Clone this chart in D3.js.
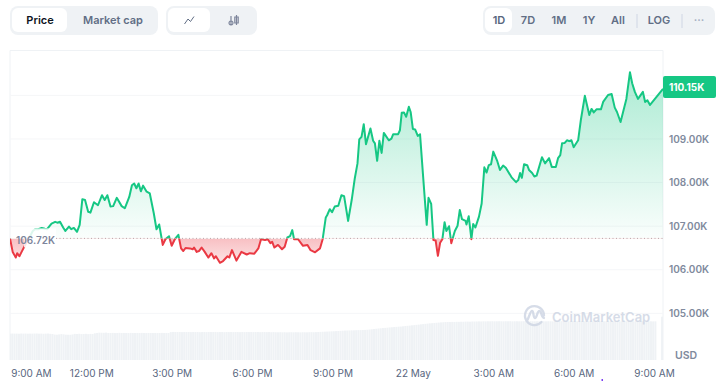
<!DOCTYPE html>
<html>
<head>
<meta charset="utf-8">
<script src="https://cdn.jsdelivr.net/npm/d3@7"></script>
<style>
  html, body { margin: 0; padding: 0; background: #fff; }
  svg { display: block; }
  text { font-family: Inter, "Noto Sans", sans-serif; }
</style>
</head>
<body>
<div id="chart"></div>
<script>
// minutes after 9:00 AM on 21 May
var priceMinutes = [
  -2, 4, 11, 14, 19, 24, 34, 43, 49, 54, 61, 69, 76, 81, 91, 99, 104, 110, 117, 122,
  130, 135, 141, 148, 154, 160, 166, 173, 178, 186, 195, 204, 210, 216, 223, 229, 237, 248, 255, 265,
  271, 276, 281, 286, 291, 296, 304, 311, 320, 326, 332, 340, 346, 354, 360, 367, 375, 381, 386, 391,
  401, 407, 410, 416, 421, 427, 434, 442, 449, 455, 459, 468, 475, 485, 489, 495, 505, 516, 528, 535,
  545, 554, 560, 569, 575, 581, 585, 590, 598, 607, 613, 619, 625, 630, 634, 643, 654, 664, 671, 681,
  692, 698, 705, 708, 714, 719, 725, 733, 740, 746, 755, 763, 770, 776, 780, 785, 790, 795, 805, 811,
  815, 820, 825, 830, 835, 846, 852, 856, 867, 871, 875, 880, 885, 891, 895, 900, 905, 911, 916, 923,
  931, 935, 941, 946, 951, 956, 961, 966, 971, 975, 981, 986, 994, 1000, 1005, 1010, 1018, 1020, 1025, 1031,
  1035, 1040, 1048, 1054, 1060, 1065, 1070, 1075, 1080, 1089, 1095, 1102, 1108, 1121, 1131, 1136, 1140, 1144, 1149, 1156,
  1160, 1167, 1172, 1177, 1189, 1196, 1205, 1211, 1220, 1225, 1230, 1234, 1240, 1245, 1250, 1255, 1260, 1270, 1276, 1285,
  1295, 1300, 1305, 1311, 1321, 1326, 1337, 1345, 1352, 1357, 1365, 1378, 1386, 1391, 1397, 1404, 1415, 1420, 1425, 1431,
  1460
];

// price in thousands of USD
var prices = [
  106.72, 106.41, 106.28, 106.38, 106.31, 106.41, 106.61, 106.77, 106.89, 106.93, 106.93, 106.96, 106.94, 106.93, 107.06, 107.10, 107.08, 107.10, 106.97, 106.89,
  106.99, 106.93, 106.96, 106.87, 107.03, 107.62, 107.60, 107.33, 107.31, 107.55, 107.48, 107.71, 107.60, 107.71, 107.45, 107.46, 107.65, 107.46, 107.41, 107.67,
  107.94, 107.98, 107.87, 107.98, 107.80, 107.93, 107.79, 107.75, 107.29, 106.93, 107.04, 106.57, 106.70, 106.77, 106.55, 106.70, 106.80, 106.49, 106.43, 106.50,
  106.49, 106.47, 106.51, 106.41, 106.43, 106.51, 106.41, 106.28, 106.38, 106.26, 106.31, 106.16, 106.20, 106.31, 106.28, 106.45, 106.21, 106.41, 106.35, 106.38,
  106.37, 106.49, 106.70, 106.68, 106.70, 106.61, 106.64, 106.51, 106.57, 106.47, 106.53, 106.74, 106.77, 106.91, 106.70, 106.70, 106.55, 106.57, 106.45, 106.40,
  106.49, 106.70, 107.20, 107.25, 107.39, 107.32, 107.45, 107.47, 107.71, 107.69, 107.12, 107.60, 108.10, 108.44, 108.99, 109.05, 109.34, 108.88, 109.24, 108.96,
  108.90, 108.50, 108.96, 108.68, 109.14, 108.97, 109.01, 109.11, 109.11, 109.20, 109.60, 109.61, 109.51, 109.74, 109.62, 109.23, 109.22, 109.07, 109.11, 108.13,
  107.03, 107.65, 107.51, 106.68, 106.67, 106.32, 106.62, 106.70, 107.09, 106.89, 107.00, 106.61, 106.89, 107.01, 107.37, 107.16, 107.12, 107.04, 107.23, 106.70,
  107.05, 106.97, 107.22, 107.52, 108.35, 108.23, 108.40, 108.42, 108.71, 108.49, 108.29, 108.39, 108.34, 108.12, 108.01, 108.06, 108.22, 108.11, 108.42, 108.40,
  108.29, 108.22, 108.14, 108.16, 108.58, 108.44, 108.56, 108.36, 108.36, 108.56, 108.63, 108.90, 108.91, 108.97, 108.95, 108.97, 108.81, 108.97, 109.43, 109.99,
  109.55, 109.69, 109.61, 109.68, 109.68, 109.85, 110.01, 110.03, 109.72, 109.62, 109.39, 109.92, 110.53, 110.28, 110.08, 109.92, 110.08, 109.85, 109.89, 109.78,
  110.15
];

// rolling 24h volume in billions, one bar every 5 minutes
var volumes = [
  59.8, 60.1, 59.9, 60.0, 59.7, 60.2, 59.9, 60.1, 59.8, 60.0, 59.9, 60.1, 60.2, 59.8, 60.0, 59.6, 59.9, 60.1, 59.5, 59.2,
  57.8, 57.5, 58.2, 58.9, 58.4, 57.6, 57.4, 57.3, 58.1, 59.4, 59.2, 59.6, 58.9, 59.1, 59.5, 58.8, 59.3, 59.0, 60.7, 61.5,
  62.1, 62.0, 61.8, 62.2, 61.5, 61.3, 61.6, 61.2, 61.4, 61.7, 61.3, 61.5, 61.4, 61.2, 61.6, 61.3, 61.4, 61.5, 61.3, 61.6,
  61.4, 61.2, 61.5, 61.4, 61.3, 61.5, 61.2, 61.4, 61.6, 61.3, 61.5, 61.4, 63.4, 63.8, 63.6, 63.5, 63.7, 63.4, 63.6, 63.5,
  63.6, 63.4, 63.7, 63.5, 63.6, 63.3, 63.5, 63.6, 63.4, 63.7, 63.5, 63.6, 63.8, 63.4, 63.5, 63.6, 63.3, 63.6, 63.5, 63.7,
  63.4, 63.6, 63.5, 63.3, 63.6, 63.4, 63.7, 63.5, 63.6, 63.4, 63.5, 63.7, 63.3, 63.6, 63.5, 63.4, 63.6, 63.2, 63.4, 63.1,
  63.0, 63.2, 62.9, 63.1, 62.8, 63.0, 63.1, 62.9, 63.2, 63.0, 62.8, 63.1, 63.0, 62.9, 63.2, 63.3, 63.1, 63.4, 63.6, 63.9,
  64.2, 64.4, 64.6, 64.9, 65.1, 65.4, 65.7, 66.0, 66.3, 66.6, 66.9, 67.0, 67.2, 67.4, 67.5, 67.7, 67.9, 68.0, 68.2, 68.4,
  68.8, 69.3, 69.9, 70.5, 71.0, 71.6, 72.1, 72.6, 73.0, 73.5, 74.0, 74.4, 74.9, 75.3, 75.7, 76.0, 76.6, 77.2, 77.7, 78.2,
  78.8, 79.3, 79.9, 80.4, 81.1, 81.6, 82.2, 82.7, 83.3, 83.7, 84.2, 84.6, 85.1, 85.5, 85.8, 86.2, 86.4, 86.3, 86.6, 86.5,
  86.8, 86.7, 87.0, 86.9, 87.2, 87.3, 87.1, 87.5, 87.4, 87.6, 87.8, 87.6, 87.9, 87.8, 88.0, 87.9, 88.1, 87.9, 88.0, 88.1,
  88.0, 87.9, 88.1, 88.0, 88.2, 87.9, 88.0, 88.1, 87.9, 88.0, 88.2, 88.0, 87.9, 88.1, 88.0, 87.9, 88.1, 88.0, 88.2, 88.0,
  87.9, 88.1, 88.0, 87.8, 88.0, 88.1, 87.9, 88.2, 88.0, 88.1, 87.9, 88.0, 88.1, 87.8, 88.0, 87.9, 88.1, 88.0, 87.9, 88.1,
  88.0, 87.9, 88.1, 88.0, 87.8, 88.1, 88.0, 87.9, 88.2, 88.0, 87.9, 88.1, 88.0, 87.8, 88.1, 87.9, 88.0, 88.1, 87.9, 88.0,
  87.8, 88.0, 87.9, 88.1, 87.8, 88.0, 87.9, 88.0, 87.8, 87.9, null, null, 98.4
];

var volumeStart = -2;
var volumeStep = 5;

var basePrice = 106.72;
var lastPrice = 110.15;

var gridTicks = [105, 106, 107, 108, 109, 110];
var priceTicks = [105, 106, 107, 108, 109]; // 110.00K sits under the current price tag
var timeTicks = [0, 180, 360, 540, 720, 900, 1080, 1260, 1440];
var timeLabels = ["9:00 AM", "12:00 PM", "3:00 PM", "6:00 PM", "9:00 PM", "22 May", "3:00 AM", "6:00 AM", "9:00 AM"];

var points = prices.map(function(d, i) { return {minute: priceMinutes[i], price: d}; });
var volumeBars = volumes.map(function(d, i) { return {minute: volumeStart + i * volumeStep, volume: d}; })
    .filter(function(d) { return d.volume !== null; });

var plot = {left: 10, right: 663, top: 50.5, bottom: 360};
var green = "#16c784", red = "#ea3943";

var svg = d3.select("#chart").append("svg")
    .attr("width", 720)
    .attr("height", 381);

var x = d3.scaleLinear().domain([-2, 1460]).range([plot.left, plot.right]);
var y = d3.scaleLinear().domain([103.93, 111.03]).range([plot.bottom, plot.top]);
var yVolume = d3.scaleLinear().domain([0, 100]).range([plot.bottom, plot.bottom - 44]);

var defs = svg.append("defs");

defs.append("clipPath").attr("id", "clip-plot").append("rect")
    .attr("x", plot.left).attr("y", plot.top)
    .attr("width", plot.right - plot.left).attr("height", plot.bottom - plot.top);
defs.append("clipPath").attr("id", "clip-up").append("rect")
    .attr("x", plot.left).attr("y", plot.top)
    .attr("width", plot.right - plot.left).attr("height", y(basePrice) - plot.top);
defs.append("clipPath").attr("id", "clip-down").append("rect")
    .attr("x", plot.left).attr("y", y(basePrice))
    .attr("width", plot.right - plot.left).attr("height", plot.bottom - y(basePrice));

var gradUp = defs.append("linearGradient").attr("id", "grad-up")
    .attr("gradientUnits", "userSpaceOnUse")
    .attr("x1", 0).attr("x2", 0).attr("y1", y(110.53)).attr("y2", y(basePrice));
gradUp.append("stop").attr("offset", 0).attr("stop-color", green).attr("stop-opacity", 0.36);
gradUp.append("stop").attr("offset", 1).attr("stop-color", green).attr("stop-opacity", 0.02);

var gradDown = defs.append("linearGradient").attr("id", "grad-down")
    .attr("gradientUnits", "userSpaceOnUse")
    .attr("x1", 0).attr("x2", 0).attr("y1", y(basePrice)).attr("y2", y(106.16));
gradDown.append("stop").attr("offset", 0).attr("stop-color", red).attr("stop-opacity", 0.32);
gradDown.append("stop").attr("offset", 1).attr("stop-color", red).attr("stop-opacity", 0.14);

// Plot frame and gridlines
svg.append("path")
    .attr("d", "M" + plot.left + "," + plot.bottom + "V" + plot.top + "H" + plot.right + "V" + plot.bottom)
    .attr("fill", "none")
    .attr("stroke", "#eff2f5");

svg.append("g").selectAll("line")
    .data(gridTicks)
    .enter().append("line")
    .attr("x1", plot.left).attr("x2", plot.right)
    .attr("y1", function(d) { return y(d); })
    .attr("y2", function(d) { return y(d); })
    .attr("stroke", "#f5f6f8");

// Volume bars
svg.append("g")
    .attr("clip-path", "url(#clip-plot)")
    .selectAll("rect")
    .data(volumeBars)
    .enter().append("rect")
    .attr("x", function(d) { return x(d.minute) - 1; })
    .attr("y", function(d) { return yVolume(d.volume); })
    .attr("width", 2)
    .attr("height", function(d) { return plot.bottom - yVolume(d.volume); })
    .attr("fill", "#eff2f5");

// Price area and line, split at the opening price
var area = d3.area()
    .x(function(d) { return x(d.minute); })
    .y0(y(basePrice))
    .y1(function(d) { return y(d.price); });

var line = d3.line()
    .x(function(d) { return x(d.minute); })
    .y(function(d) { return y(d.price); });

svg.append("path").datum(points)
    .attr("d", area)
    .attr("fill", "url(#grad-up)")
    .attr("clip-path", "url(#clip-up)");
svg.append("path").datum(points)
    .attr("d", area)
    .attr("fill", "url(#grad-down)")
    .attr("clip-path", "url(#clip-down)");

svg.append("path").datum(points)
    .attr("d", line)
    .attr("fill", "none")
    .attr("stroke", green)
    .attr("stroke-width", 2)
    .attr("stroke-linejoin", "round")
    .attr("clip-path", "url(#clip-up)");
svg.append("path").datum(points)
    .attr("d", line)
    .attr("fill", "none")
    .attr("stroke", red)
    .attr("stroke-width", 2)
    .attr("stroke-linejoin", "round")
    .attr("clip-path", "url(#clip-down)");

// Opening price marker
svg.append("line")
    .attr("x1", 56).attr("x2", plot.right)
    .attr("y1", y(basePrice)).attr("y2", y(basePrice))
    .attr("stroke", "#b9a6aa")
    .attr("stroke-dasharray", "1,2.5");

svg.append("rect")
    .attr("x", 24).attr("y", y(basePrice) - 10)
    .attr("width", 32).attr("height", 19)
    .attr("fill", "#fff").attr("fill-opacity", 0.85);

svg.append("text")
    .attr("x", 16).attr("y", y(basePrice) + 6)
    .attr("font-size", 10).attr("font-weight", 600)
    .attr("fill", "#7d859b")
    .text(d3.format(".2f")(basePrice) + "K");

// Watermark
var mark = svg.append("g").attr("opacity", 0.85);
mark.append("path")
    .attr("d", "M541.5,322 A9.5,9.5 0 1 1 544,315.5 M526.5,321 C528.5,320 530,311 532,311 C534,311 533,318 535,318 C537,318 537,311 539.5,311 C541.5,311 541,317 544,318")
    .attr("fill", "none")
    .attr("stroke", "#cfd6e4")
    .attr("stroke-width", 2.3)
    .attr("stroke-linecap", "round");
mark.append("text")
    .attr("x", 552).attr("y", 322)
    .attr("font-size", 13).attr("font-weight", 600)
    .attr("fill", "#cfd6e4")
    .text("CoinMarketCap");

// Axes
var priceAxis = d3.axisRight(y)
    .tickValues(priceTicks)
    .tickSize(0)
    .tickPadding(0)
    .tickFormat(function(d) { return d3.format(".2f")(d) + "K"; });

svg.append("g")
    .attr("class", "price-axis")
    .attr("transform", "translate(669,0)")
    .call(priceAxis)
    .call(function(g) { g.select(".domain").remove(); })
    .selectAll("text")
    .attr("font-family", null)
    .attr("font-size", 10)
    .attr("font-weight", 600)
    .attr("fill", "#808a9d");

var timeAxis = d3.axisBottom(x)
    .tickValues(timeTicks)
    .tickSize(0)
    .tickPadding(0)
    .tickFormat(function(d, i) { return timeLabels[i]; });

svg.append("g")
    .attr("class", "time-axis")
    .attr("transform", "translate(0,370)")
    .call(timeAxis)
    .call(function(g) { g.select(".domain").remove(); })
    .selectAll("text")
    .attr("font-family", null)
    .attr("font-size", 10)
    .attr("font-weight", 400)
    .attr("fill", "#58667e")
    .attr("dx", function(d, i) { return i === 0 ? 20 : 0; });

svg.append("text")
    .attr("x", 675).attr("y", 359)
    .attr("font-size", 10.5).attr("font-weight", 600)
    .attr("fill", "#808a9d")
    .text("USD");

// Current price tag
svg.append("rect")
    .attr("x", 663).attr("y", 76)
    .attr("width", 53).attr("height", 22)
    .attr("rx", 2)
    .attr("fill", green);
svg.append("text")
    .attr("x", 669).attr("y", 91)
    .attr("font-size", 10).attr("font-weight", 700)
    .attr("fill", "#fff")
    .text(d3.format(".2f")(lastPrice) + "K");

// Toolbar
function group(x0, x1) {
    svg.append("rect")
        .attr("x", x0).attr("y", 6)
        .attr("width", x1 - x0).attr("height", 29)
        .attr("rx", 8)
        .attr("fill", "#eff2f5");
}
function active(x0, x1) {
    svg.append("rect")
        .attr("x", x0).attr("y", 8)
        .attr("width", x1 - x0).attr("height", 24)
        .attr("rx", 6)
        .attr("fill", "#fff");
}
function label(text, cx, color) {
    svg.append("text")
        .attr("x", cx).attr("y", 24)
        .attr("text-anchor", "middle")
        .attr("font-size", 11).attr("font-weight", 600)
        .attr("fill", color)
        .text(text);
}
function separator(sx) {
    svg.append("line")
        .attr("x1", sx).attr("x2", sx)
        .attr("y1", 14).attr("y2", 28)
        .attr("stroke", "#cfd6e4");
}

group(10, 158);
active(12, 67);
label("Price", 40, "#0d1421");
label("Market cap", 113, "#616e85");

group(166, 257);
active(168, 210);
svg.append("path")
    .attr("d", "M184.5,24 L188,19 L190.5,21.5 L194,16.5")
    .attr("fill", "none")
    .attr("stroke", "#616e85")
    .attr("stroke-width", 1);
svg.append("path")
    .attr("d", "M231,16 V25 M231,21 a2,2 0 1 0 0.01,0 M236.5,15 V25 M234.8,17 h3.4 v6 h-3.4 z")
    .attr("fill", "none")
    .attr("stroke", "#7d859b")
    .attr("stroke-width", 1.2);

group(483, 715);
active(485, 512);
label("1D", 499, "#58667e");
label("7D", 528, "#616e85");
label("1M", 559, "#616e85");
label("1Y", 589, "#616e85");
label("All", 618, "#616e85");
separator(637);
label("LOG", 659, "#616e85");
separator(682);
label("···", 699, "#a6b0c3");

// Stray mark at the bottom edge of the screenshot
svg.append("rect")
    .attr("x", 601.5).attr("y", 379)
    .attr("width", 1.5).attr("height", 2)
    .attr("fill", "#7b3ff2");
</script>
</body>
</html>
